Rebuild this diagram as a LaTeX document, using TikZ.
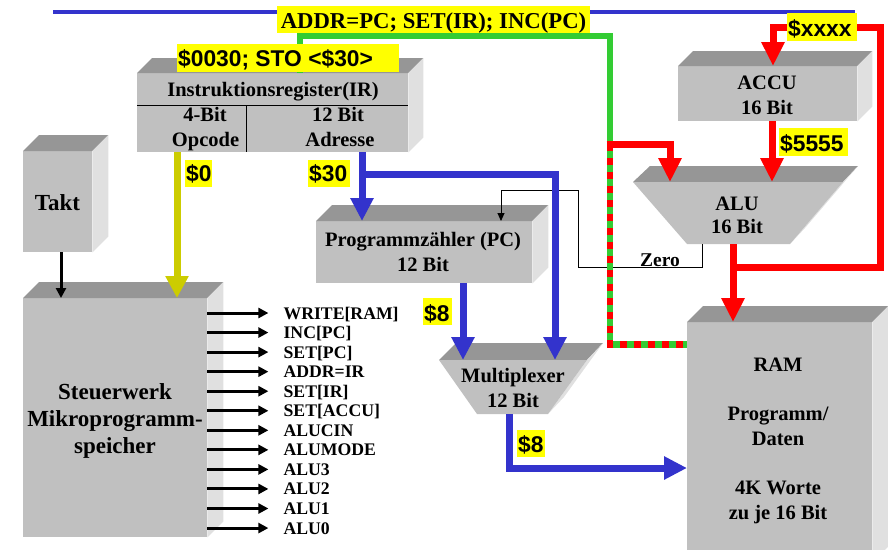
\documentclass[tikz,border=0pt]{standalone}
\usepackage{fontspec}
\setmainfont{Liberation Serif}
\newfontfamily\sansf{Liberation Sans}
\usetikzlibrary{arrows.meta,calc}
\definecolor{frontC}{HTML}{C0C0C0}
\definecolor{topC}{HTML}{969696}
\definecolor{sideC}{HTML}{E0E0E0}
\definecolor{blueC}{HTML}{3333CC}
\definecolor{redC}{HTML}{FF0000}
\definecolor{greenC}{HTML}{33CC33}
\definecolor{oliveC}{HTML}{CCCC00}
\definecolor{yelC}{HTML}{FFFF00}
\tikzset{
  front/.style={fill=frontC, inner sep=0pt, anchor=north west},
  tt/.style={inner sep=0pt, anchor=base, font=\fontsize{20.5}{24}\selectfont\bfseries},
  tbig/.style={inner sep=0pt, anchor=base, font=\fontsize{23}{27}\selectfont\bfseries},
  sigT/.style={inner sep=0pt, anchor=base west, font=\fontsize{17.7}{20}\selectfont\bfseries},
  ybox/.style={fill=yelC, inner sep=0pt, anchor=north west},
  ytxt/.style={inner sep=0pt, anchor=base west, font=\sansf\bfseries\fontsize{22.8}{26}\selectfont},
  blueL/.style={draw=blueC, line width=7pt, -{Triangle[width=22pt,length=23pt]}},
  redL/.style={draw=redC, line width=7pt, -{Triangle[width=22pt,length=24pt]}},
  redP/.style={draw=redC, line width=7pt},
  greenP/.style={draw=greenC, line width=6.5pt},
  redD/.style={draw=redC, line width=6.5pt, dash pattern=on 7pt off 7pt},
  oliveL/.style={draw=oliveC, line width=7pt, -{Triangle[width=22pt,length=22pt]}},
  sigA/.style={draw=black, line width=3pt, -{Triangle[width=10pt,length=10pt]}},
  zeroL/.style={draw=black, line width=0.9pt, -{Triangle[width=7pt,length=8pt]}},
}
\newcommand\mycube[6]{%
  \node[front, minimum width=#4, minimum height=#5] (#1) at (#2,#3) {};
  \fill[topC] (#1.north west) -- ++(#6,-#6) -- ($(#1.north east)+(#6,-#6)$) -- (#1.north east) -- cycle;
  \fill[sideC] (#1.north east) -- ++(#6,-#6) -- ($(#1.south east)+(#6,-#6)$) -- (#1.south east) -- cycle;
}
\newcommand\ylab[7]{%
  \node[ybox, minimum width=#4, minimum height=#5] (#1) at (#2,#3) {};
  \node[ytxt] (#1t) at ($(#1.north west)+(1,#6)$) {#7};
}
\begin{document}
\begin{tikzpicture}[x=1pt,y=-1pt]
\useasboundingbox (0,0) rectangle (888,549);
\clip (0,0) rectangle (888,549);

% header line
\coordinate (hl) at (53,12);
\coordinate (hr) at (855,12);
\draw[blueC, line width=4pt] (hl) -- (hr);

% boxes
\mycube{takt}{23}{151}{69}{101}{16}
\mycube{sw}{23}{298}{184}{239}{16}
\mycube{ir}{137}{73}{271}{79}{15}
\mycube{pc}{316}{221}{216}{62}{16}
\mycube{accu}{678}{66}{179}{55}{15}
\mycube{ram}{687}{322}{185}{240}{16}

\draw[line width=1pt] ($(ir.north west)+(0,32)$) -- ($(ir.north east)+(0,32)$);
\draw[line width=1pt] ($(ir.north west)+(109,32)$) -- ($(ir.south west)+(109,0)$);

% ALU trapezoid
\fill[topC] (633,182) -- (650,166) -- (858,166) -- (843,182) -- cycle;
\fill[sideC] (843,182) -- (858,166) -- (805,228) -- (790,244) -- cycle;
\fill[frontC] (633,182) -- (843,182) -- (790,244) -- (687,244) -- cycle;
% Multiplexer trapezoid
\fill[topC] (439,360) -- (456,343) -- (603,343) -- (587,360) -- cycle;
\fill[sideC] (587,360) -- (603,343) -- (564,397) -- (548,414) -- cycle;
\fill[frontC] (439,360) -- (587,360) -- (548,414) -- (477,414) -- cycle;

\coordinate (aluIn1) at (670,182);
\coordinate (aluOut) at (733,244);
\coordinate (aluZ) at (702,244);
\coordinate (muxL) at (463,360);
\coordinate (muxR) at (555,360);
\coordinate (muxO) at (509,414);
\coordinate (zc) at (578,190);
\coordinate (g1) at (610,36);
\coordinate (g2) at (610,144);

% Zero feedback
\draw[zeroL] (aluZ) -- ++(0,23) -| (zc) -| ($(pc.north west)+(185,0)$);

% Takt and opcode
\draw[sigA] ($(takt.south west)+(38,0)$) coordinate (tk0) -- (tk0 |- sw.north);
\draw[oliveL] ($(ir.south west)+(40,0)$) coordinate (ol0) -- (ol0 |- sw.north);

% address paths (blue)
\draw[blueL] ($(ir.south west)+(225,0)$) coordinate (b0) -- (b0 |- pc.north);
\draw[blueL] ($(b0)+(0,22)$) -| (muxR);
\draw[blueL] ($(pc.south west)+(147,0)$) -- (muxL);
\draw[blueL] (muxO) |- ($(ram.north west)+(0,146)$);

% data bus (green / red)
\coordinate (ramD) at ($(ram.north west)+(0,22.5)$);
\draw[greenP] ($(ir.north west)+(163,0)$) |- (g1) -- (g2) |- (ramD);
\draw[redD] (g2) |- (ramD);
\draw[redL] ($(g2)+(-3.5,0)$) -| (aluIn1);

% ACCU / ALU
\draw[redL] ($(accu.south west)+(94,0)$) coordinate (a0) -- (a0 |- aluIn1);
\coordinate (rj) at ($(aluOut)+(0,23)$);
\draw[redL] (aluOut) -- (aluOut |- ram.north);

% texts
\node[tbig] (taktT) at (57.5,210) {Takt};
\node[tbig] (swT1) at (115,399) {Steuerwerk};
\node[tbig] (swT2) at (115,426) {Mikroprogramm-};
\node[tbig] (swT3) at (115,453) {speicher};
\node[tt] (irT) at (273,96.5) {Instruktionsregister(IR)};
\node[tt] (irA1) at (205,121.5) {4-Bit};
\node[tt] (irA2) at (205.5,146) {Opcode};
\node[tt] (irB1) at (338,121.5) {12 Bit};
\node[tt] (irB2) at (340,146) {Adresse};
\node[tt] (pcT1) at (423,246.5) {Programmzähler (PC)};
\node[tt] (pcT2) at (423,271.5) {12 Bit};
\node[tt] (accuT1) at (767,89.3) {ACCU};
\node[tt] (accuT2) at (767,114.3) {16 Bit};
\node[tt] (aluT1) at (737,210) {ALU};
\node[tt] (aluT2) at (737,233.3) {16 Bit};
\node[tt] (muxT1) at (513,382.7) {Multiplexer};
\node[tt] (muxT2) at (513,407.3) {12 Bit};
\node[tt] (ramT1) at (778,371) {RAM};
\node[tt] (ramT2) at (778,420) {Programm/};
\node[tt] (ramT3) at (778,445) {Daten};
\node[tt] (ramT4) at (778,494.3) {4K Worte};
\node[tt] (ramT5) at (778,519) {zu je 16 Bit};
\node[inner sep=0pt, anchor=base, font=\fontsize{19.5}{22}\selectfont\bfseries] (zeroT) at (660,266.5) {Zero};

% control signals
\foreach \sig [count=\i] in {WRITE[RAM],INC[PC],SET[PC],ADDR=IR,SET[IR],SET[ACCU],ALUCIN,ALUMODE,ALU3,ALU2,ALU1,ALU0} {
  \pgfmathsetmacro\yy{15+(\i-1)*19.55}
  \coordinate (sa\i) at ($(sw.north east)+(0,\yy)$);
  \node[sigT] (sl\i) at ($(sa\i)+(76,6)$) {\sig};
  \draw[sigA] (sa\i) -- ($(sl\i.base west)+(-15,-6)$);
}

% yellow labels
\node[ybox, minimum width=313, minimum height=27] (yAddr) at (277,6) {};
\node[inner sep=0pt, anchor=base, font=\fontsize{22.7}{26}\selectfont\bfseries] (yAddrT) at (433.5,28.5) {ADDR=PC; SET(IR); INC(PC)};
\ylab{yIR}{177}{44}{222}{28}{22.5}{\$0030; STO <\$30>}
\ylab{yX}{787}{13}{70}{28}{23.5}{\$xxxx}
\ylab{yF}{779}{128}{69}{28}{23.5}{\$5555}
\ylab{yZ}{185}{160}{27}{27}{21.5}{\$0}
\ylab{yT}{308}{160}{42}{27}{21.5}{\$30}
\ylab{yE}{423}{298}{29}{27}{23.5}{\$8}
\ylab{yEb}{517}{430}{28}{27}{22.5}{\$8}

% $xxxx feeds
\draw[redL] (yX.west) -| ($(accu.north west)+(95,0)$);
\draw[redP] (yX.east) -- ++(23,0) |- (rj);
\end{tikzpicture}
\end{document}
